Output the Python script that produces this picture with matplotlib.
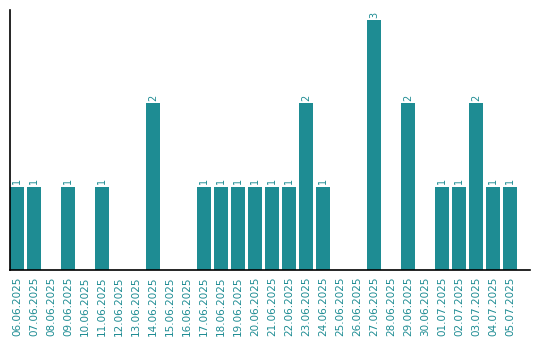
import matplotlib
matplotlib.use("Agg")
import matplotlib.pyplot as plt

dates = ["06.06.2025", "07.06.2025", "08.06.2025", "09.06.2025", "10.06.2025",
         "11.06.2025", "12.06.2025", "13.06.2025", "14.06.2025", "15.06.2025",
         "16.06.2025", "17.06.2025", "18.06.2025", "19.06.2025", "20.06.2025",
         "21.06.2025", "22.06.2025", "23.06.2025", "24.06.2025", "25.06.2025",
         "26.06.2025", "27.06.2025", "28.06.2025", "29.06.2025", "30.06.2025",
         "01.07.2025", "02.07.2025", "03.07.2025", "04.07.2025", "05.07.2025"]
counts = [1, 1, 0, 1, 0, 1, 0, 0, 2, 0, 0, 1, 1, 1, 1, 1, 1, 2, 1, 0,
          0, 3, 0, 2, 0, 1, 1, 2, 1, 1]

TEAL = "#1e8c93"

fig = plt.figure(figsize=(5.4, 3.4), dpi=100)
ax = fig.add_axes([10/540, 70/340, 520/540, 260/340])

x = list(range(len(dates)))
ax.bar(x, counts, width=0.82, color=TEAL)
for xi, c in zip(x, counts):
    if c > 0:
        ax.text(xi, c + 0.03, str(c), rotation=90, ha="center", va="bottom",
                color=TEAL, fontsize=7)

ax.set_xlim(-0.41, 30.18)
ax.set_ylim(0, 3.12)
ax.set_xticks(x)
ax.set_xticklabels(dates, rotation=90, color=TEAL, fontsize=7.5)
ax.tick_params(axis="x", length=0, pad=5)
ax.set_yticks([])
ax.spines["top"].set_visible(False)
ax.spines["right"].set_visible(False)
ax.spines["left"].set_linewidth(1.2)
ax.spines["bottom"].set_linewidth(1.2)

fig.savefig("out.png", dpi=100)
